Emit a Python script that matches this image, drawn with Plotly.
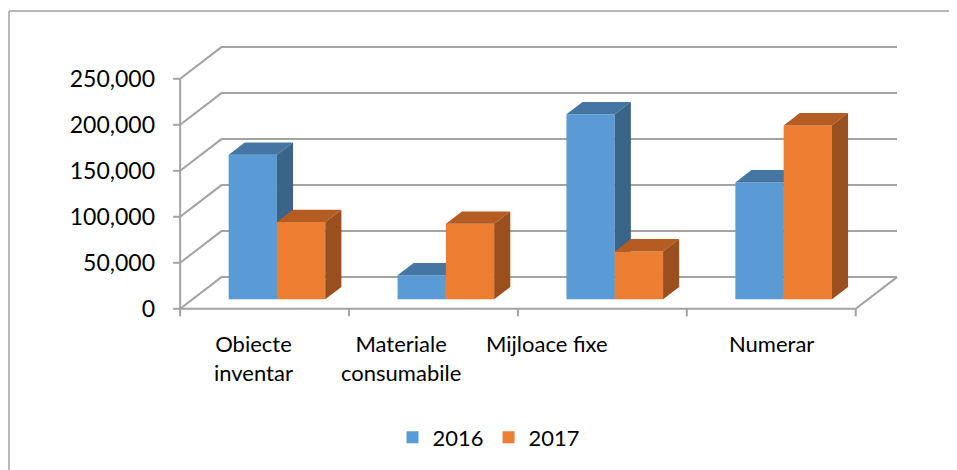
import plotly.graph_objects as go

# ---------------- data ----------------
categories = ["Obiecte<br>inventar", "Materiale<br>consumabile", "Mijloace fixe", "Numerar"]
series_names = ["2016", "2017"]
values_2016 = [157000, 26000, 201000, 127000]
values_2017 = [84000, 82000, 52000, 189000]
y_tick_values = [0, 50000, 100000, 150000, 200000, 250000]
y_tick_labels = ["0", "50,000", "100,000", "150,000", "200,000", "250,000"]

# ---------------- style / geometry ----------------
FRONT = ["#5B9BD5", "#ED7D31"]
TOP = ["#4475A3", "#B45C22"]
SIDE = ["#3A6488", "#9A4F1E"]
GRID = "#A3A3A3"
FONT = "Lato"

OFF = 8  # page body margin offset in the browser
W, H = 957, 470
PW, PH = 733, 276
ML, MT = 170 - OFF, 42 - OFF
MR, MB = W - ML - PW, H - MT - PH
XR = [-0.56, 3.78]
YR = [-10000, 290000]
PX_PER_CAT = PW / (XR[1] - XR[0])
PX_PER_VAL = PH / (YR[1] - YR[0])

DX = 41.3 / PX_PER_CAT      # floor depth, x component (category units)
DY = 31.7 / PX_PER_VAL      # floor depth, y component (value units)
F0, F1 = 0.30, 0.69          # bar depth span as fraction of floor depth
BW = 0.286                   # bar width (category units)
TICK_X = 7 / PX_PER_CAT
TICK_Y = 7.5 / PX_PER_VAL

n = len(categories)
ymax = y_tick_values[-1]

fig = go.Figure()

# gridlines (front diagonal + back wall)
gx, gy = [], []
for v in y_tick_values:
    gx += [-0.5, -0.5 + DX, n - 0.5 + DX, None]
    gy += [v, v + DY, v + DY, None]
# floor front & right edges
gx += [-0.5, n - 0.5, n - 0.5 + DX, None]
gy += [0, 0, DY, None]
# vertical axis line
gx += [-0.5, -0.5, None]
gy += [0, ymax, None]
# y ticks
for v in y_tick_values:
    gx += [-0.5 - TICK_X, -0.5, None]
    gy += [v, v, None]
# category ticks
for b in range(n + 1):
    gx += [b - 0.5, b - 0.5, None]
    gy += [0, -TICK_Y, None]
fig.add_trace(go.Scatter(x=gx, y=gy, mode="lines", line=dict(color=GRID, width=2),
                         hoverinfo="skip", showlegend=False, zorder=0))

series = [values_2016, values_2017]
ddx = (F1 - F0) * DX
ddy = (F1 - F0) * DY
for s, vals in enumerate(series):
    xs = [c + F0 * DX for c in range(n)]
    fig.add_trace(go.Bar(
        x=xs, y=vals, base=F0 * DY, width=BW, offset=-BW + s * BW,
        marker=dict(color=FRONT[s], line=dict(width=0)),
        name=series_names[s], zorder=1 + 2 * s,
    ))
    tx, ty, sx, sy = [], [], [], []
    for c, v in enumerate(vals):
        x0 = c + F0 * DX - BW + s * BW
        x1 = x0 + BW
        y0 = F0 * DY
        y1 = y0 + v
        tx += [x0, x1, x1 + ddx, x0 + ddx, x0, None]
        ty += [y1, y1, y1 + ddy, y1 + ddy, y1, None]
        sx += [x1, x1 + ddx, x1 + ddx, x1, x1, None]
        sy += [y0, y0 + ddy, y1 + ddy, y1, y0, None]
    fig.add_trace(go.Scatter(x=tx, y=ty, mode="lines", fill="toself", fillcolor=TOP[s],
                             line=dict(width=0, color=TOP[s]), hoverinfo="skip",
                             showlegend=False, zorder=2 + 2 * s))
    fig.add_trace(go.Scatter(x=sx, y=sy, mode="lines", fill="toself", fillcolor=SIDE[s],
                             line=dict(width=0, color=SIDE[s]), hoverinfo="skip",
                             showlegend=False, zorder=2 + 2 * s))

# category labels
label_shift = [-11.5, -32.5, -55.5, 0]
for c, lab in enumerate(categories):
    fig.add_annotation(x=c, y=0, xref="x", yref="y", text=lab,
                       showarrow=False, xanchor="center", yanchor="top",
                       xshift=label_shift[c], yshift=-19,
                       font=dict(family=FONT, size=22, color="#000000"))

# outer border (top and left)
px2x = lambda px: (px - OFF - ML) / PW
py2y = lambda py: (MT + PH - (py - OFF)) / PH
fig.add_shape(type="line", xref="paper", yref="paper", x0=px2x(9), x1=px2x(W + 20),
              y0=py2y(11), y1=py2y(11), line=dict(color="#A0A0A0", width=1.5))
fig.add_shape(type="line", xref="paper", yref="paper", x0=px2x(9), x1=px2x(9),
              y0=py2y(11), y1=py2y(H + 20), line=dict(color="#A0A0A0", width=1.5))

fig.update_layout(
    width=W, height=H,
    margin=dict(l=ML, r=MR, t=MT, b=MB),
    paper_bgcolor="white", plot_bgcolor="white",
    barmode="overlay",
    font=dict(family=FONT, size=22, color="#000000"),
    xaxis=dict(range=XR, showgrid=False, zeroline=False, showline=False,
               showticklabels=False, ticks="", fixedrange=True),
    yaxis=dict(range=YR, showgrid=False, zeroline=False, showline=False,
               tickvals=y_tick_values, ticktext=y_tick_labels, ticks="",
               ticklabelstandoff=14, tickfont=dict(family=FONT, size=23, color="#000000")),
    legend=dict(orientation="h", x=px2x(489), xanchor="center", y=py2y(437.5),
                yanchor="middle", font=dict(family=FONT, size=22, color="#000000"),
                bgcolor="rgba(0,0,0,0)"),
    showlegend=True,
)

fig.write_html("out.html")
